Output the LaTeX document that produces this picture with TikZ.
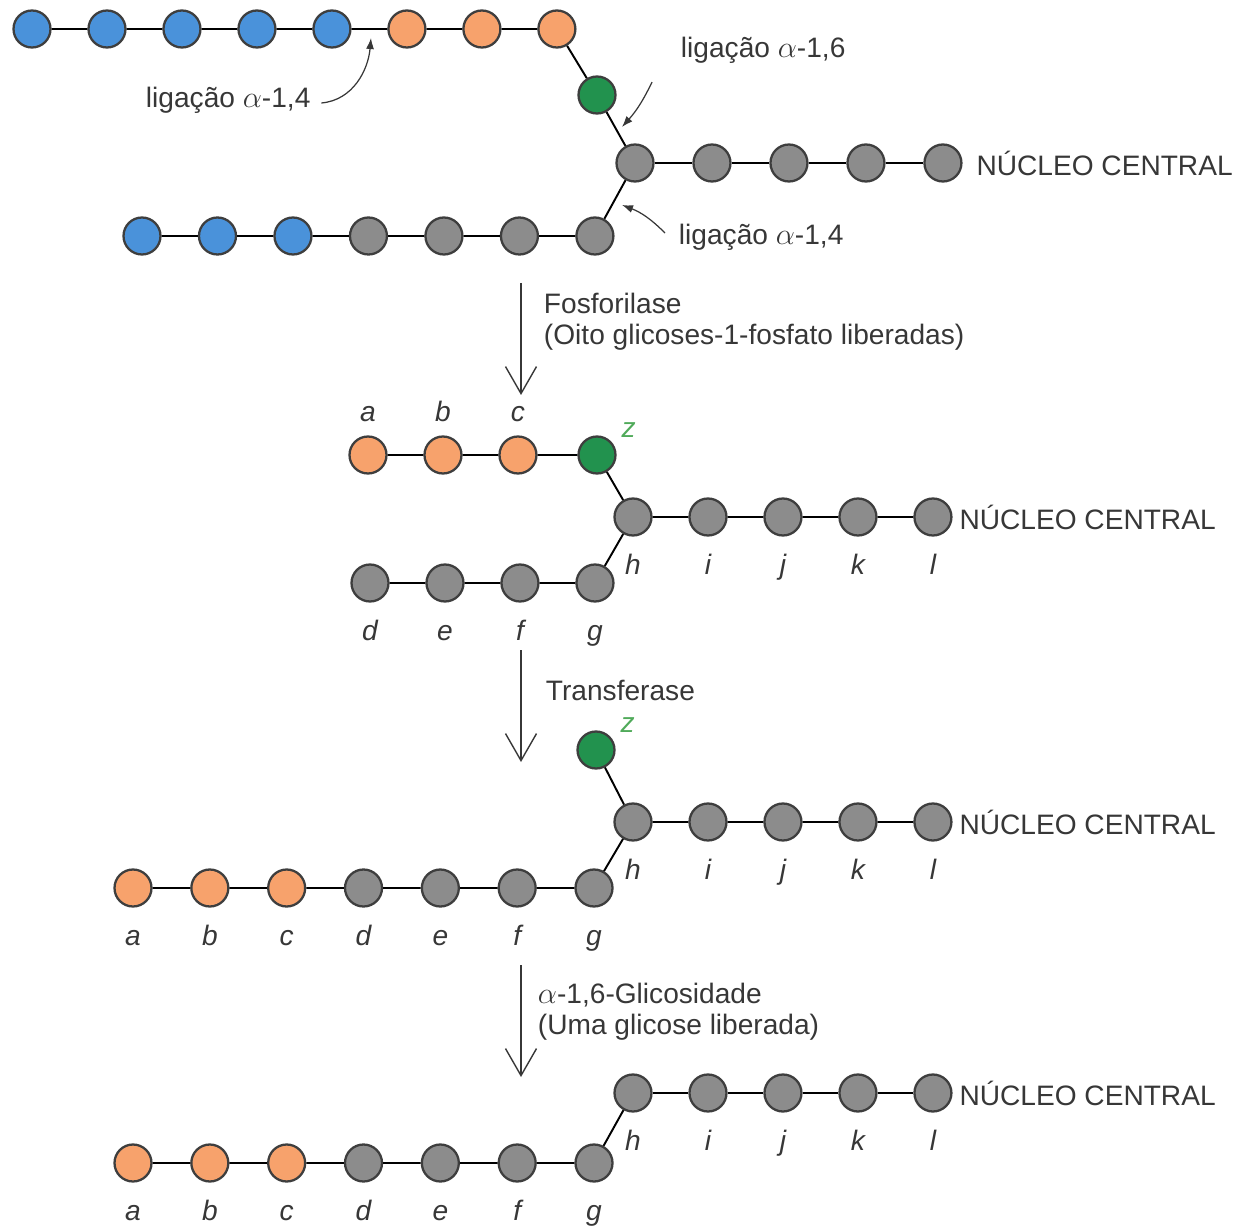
\documentclass[tikz,border=0pt]{standalone}
\usepackage{fontspec}
\setmainfont{Liberation Sans}
\usetikzlibrary{positioning,arrows.meta}
\definecolor{amyblue}{RGB}{74,146,218}
\definecolor{amyorange}{RGB}{247,162,108}
\definecolor{amygreen}{RGB}{34,146,78}
\definecolor{amygray}{RGB}{140,140,140}
\definecolor{rim}{RGB}{62,62,62}
\definecolor{ink}{RGB}{55,55,55}
\definecolor{zgreen}{RGB}{80,170,90}
\begin{document}
\begin{tikzpicture}[x=0.02cm, y=-0.02cm, node distance=1.5cm, line width=1.1pt,
  every node/.style = {font=\fontsize{16}{17.6}\selectfont, text=ink},
  main/.style = {circle, draw=rim, line width=1.3pt, minimum size=0.74cm, inner sep=0pt},
  outer/.style = {main, fill=amyblue},
  moved/.style = {main, fill=amyorange},
  branch/.style = {main, fill=amygreen},
  core/.style = {main, fill=amygray},
  letter/.style = {font=\fontsize{16}{17.6}\selectfont\itshape, text height=0.72em, text depth=0.2em, inner sep=1pt},
  tagup/.style = {label={[letter, label distance=0.16cm]above:#1}},
  tagdn/.style = {label={[letter, label distance=0.44cm]below:#1}},
  tagz/.style = {label={[letter, text=zgreen, label distance=3pt]28:z}},
  note/.style = {inner sep=0pt, anchor=west},
  pointer/.style = {-{Latex[length=2.2mm,width=1.6mm]}, line width=0.7pt, draw=ink},
  react/.style = {-{Straight Barb[length=0.54cm,width=0.62cm]}, line width=0.8pt, draw=ink}]
  \useasboundingbox (0,0) rectangle (1238,1226);

  % antes da fosforilase
  \node[outer] (p1) at (32,29) {};
  \node[outer] (p2) [right of=p1] {};
  \node[outer] (p3) [right of=p2] {};
  \node[outer] (p4) [right of=p3] {};
  \node[outer] (p5) [right of=p4] {};
  \node[moved] (p6) [right of=p5] {};
  \node[moved] (p7) [right of=p6] {};
  \node[moved] (p8) [right of=p7] {};
  \node[branch] (gz) at (597,95) {};
  \begin{scope}[node distance=1.54cm]
  \node[core] (n1) at (635,163) {};
  \node[core] (n2) [right of=n1] {};
  \node[core] (n3) [right of=n2] {};
  \node[core] (n4) [right of=n3] {};
  \node[core] (n5) [right of=n4] {};
  \end{scope}
  \node[note, right=0.26cm of n5] (c1) {NÚCLEO CENTRAL};
  \begin{scope}[node distance=1.51cm]
  \node[outer] (q1) at (142,236) {};
  \node[outer] (q2) [right of=q1] {};
  \node[outer] (q3) [right of=q2] {};
  \node[core] (q4) [right of=q3] {};
  \node[core] (q5) [right of=q4] {};
  \node[core] (q6) [right of=q5] {};
  \node[core] (q7) [right of=q6] {};
  \end{scope}
  \draw (p1) -- (p2) -- (p3) -- (p4) -- (p5) -- (p6) -- (p7) -- (p8) -- (gz) -- (n1);
  \draw (n1) -- (n2) -- (n3) -- (n4) -- (n5);
  \draw (q1) -- (q2) -- (q3) -- (q4) -- (q5) -- (q6) -- (q7) -- (n1);

  \node[note] (l14a) at (145,100) {ligação $\alpha$-1,4};
  \node[note] (l16) at (680,50) {ligação $\alpha$-1,6};
  \node[note] (l14b) at (678,237) {ligação $\alpha$-1,4};
  \coordinate (k14a) at (371,38);
  \coordinate (k16) at (622,127);
  \coordinate (k14b) at (622,205);
  \draw[pointer] ([xshift=0.2cm,yshift=-0.06cm]l14a.east) to[out=5, in=-95] (k14a);
  \draw[pointer] ([shift={(-28,18)}]l16.south west) to[bend left=8] (k16);
  \draw[pointer] ([shift={(-13,-4)}]l14b.west) to[bend right=12] (k14b);

  % fosforilase
  \coordinate (s1) at (521,283);
  \coordinate (t1) at (521,395);
  \draw[react] (s1) -- (t1);
  \node[note, align=left] (r1) at (543,322) {Fosforilase\\(Oito glicoses-1-fosfato liberadas)};

  \node[moved, tagup=a] (a2) at (368,455) {};
  \node[moved, tagup=b] (b2) [right of=a2] {};
  \node[moved, tagup=c] (c2) [right of=b2] {};
  \node[branch, tagz] (z2) at (597,455) {};
  \node[core, tagdn=h] (h2) at (633,517) {};
  \node[core, tagdn=i] (i2) [right of=h2] {};
  \node[core, tagdn=j] (j2) [right of=i2] {};
  \node[core, tagdn=k] (k2) [right of=j2] {};
  \node[core, tagdn=l] (l2) [right of=k2] {};
  \node[note, right=0.12cm of l2] (c2n) {NÚCLEO CENTRAL};
  \node[core, tagdn=d] (d2) at (370,583) {};
  \node[core, tagdn=e] (e2) [right of=d2] {};
  \node[core, tagdn=f] (f2) [right of=e2] {};
  \node[core, tagdn=g] (g2) [right of=f2] {};
  \draw (a2) -- (b2) -- (c2) -- (z2) -- (h2) -- (i2) -- (j2) -- (k2) -- (l2);
  \draw (d2) -- (e2) -- (f2) -- (g2) -- (h2);

  % transferase
  \coordinate (s2) at (521,650);
  \coordinate (t2) at (521,762);
  \draw[react] (s2) -- (t2);
  \node[note] (r2) at (545,690) {Transferase};

  \node[branch, tagz] (z3) at (596,750) {};
  \node[core, tagdn=h] (h3) at (633,822) {};
  \node[core, tagdn=i] (i3) [right of=h3] {};
  \node[core, tagdn=j] (j3) [right of=i3] {};
  \node[core, tagdn=k] (k3) [right of=j3] {};
  \node[core, tagdn=l] (l3) [right of=k3] {};
  \node[note, right=0.12cm of l3] (c3) {NÚCLEO CENTRAL};
  \begin{scope}[node distance=1.537cm]
  \node[moved, tagdn=a] (a3) at (133,888) {};
  \node[moved, tagdn=b] (b3) [right of=a3] {};
  \node[moved, tagdn=c] (c3b) [right of=b3] {};
  \node[core, tagdn=d] (d3) [right of=c3b] {};
  \node[core, tagdn=e] (e3) [right of=d3] {};
  \node[core, tagdn=f] (f3) [right of=e3] {};
  \node[core, tagdn=g] (g3) [right of=f3] {};
  \end{scope}
  \draw (z3) -- (h3) -- (i3) -- (j3) -- (k3) -- (l3);
  \draw (a3) -- (b3) -- (c3b) -- (d3) -- (e3) -- (f3) -- (g3) -- (h3);

  % glicosidase
  \coordinate (s3) at (521,965);
  \coordinate (t3) at (521,1077);
  \draw[react] (s3) -- (t3);
  \node[note, align=left] (r3) at (537,1012) {$\alpha$-1,6-Glicosidade\\(Uma glicose liberada)};

  \node[core, tagdn=h] (h4) at (633,1093) {};
  \node[core, tagdn=i] (i4) [right of=h4] {};
  \node[core, tagdn=j] (j4) [right of=i4] {};
  \node[core, tagdn=k] (k4) [right of=j4] {};
  \node[core, tagdn=l] (l4) [right of=k4] {};
  \node[note, right=0.12cm of l4] (c4) {NÚCLEO CENTRAL};
  \begin{scope}[node distance=1.537cm]
  \node[moved, tagdn=a] (a4) at (133,1163) {};
  \node[moved, tagdn=b] (b4) [right of=a4] {};
  \node[moved, tagdn=c] (c4b) [right of=b4] {};
  \node[core, tagdn=d] (d4) [right of=c4b] {};
  \node[core, tagdn=e] (e4) [right of=d4] {};
  \node[core, tagdn=f] (f4) [right of=e4] {};
  \node[core, tagdn=g] (g4) [right of=f4] {};
  \end{scope}
  \draw (h4) -- (i4) -- (j4) -- (k4) -- (l4);
  \draw (a4) -- (b4) -- (c4b) -- (d4) -- (e4) -- (f4) -- (g4) -- (h4);
\end{tikzpicture}
\end{document}
